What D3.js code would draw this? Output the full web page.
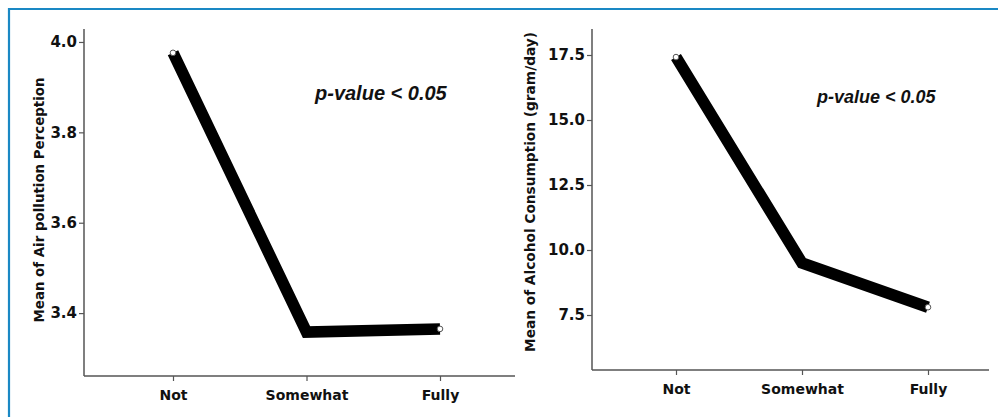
<!DOCTYPE html>
<html><head><meta charset="utf-8">
<script src="https://cdn.jsdelivr.net/npm/d3@7"></script>
<style>body{margin:0;background:#fff}svg{display:block}</style>
</head><body>
<svg id="c" width="998" height="417"></svg>
<script>
const categories = ["Not", "Somewhat", "Fully"];
const airValues = [3.976, 3.358, 3.365];
const alcoholValues = [17.42, 9.5, 7.8];
const airTicks = [3.4, 3.6, 3.8, 4.0];
const alcoholTicks = [7.5, 10.0, 12.5, 15.0, 17.5];
const airTitle = "Mean of Air pollution Perception";
const alcoholTitle = "Mean of Alcohol Consumption (gram/day)";
const annotation = "p-value < 0.05";

const svg = d3.select("#c");
const font = "'DejaVu Sans', sans-serif";
const annFont = "'Liberation Sans', Arial, sans-serif";

// blue frame
svg.append("path").attr("d", "M9,417 V9 H998").attr("fill", "none")
  .attr("stroke", "#1a88c4").attr("stroke-width", 2.2);

function panel(o) {
  const g = svg.append("g");
  const x = d3.scalePoint().domain(categories).range([o.x0, o.x2]);
  const y = d3.scaleLinear().domain(o.domain).range([o.yBottom, o.yTop]);
  // y axis
  const ya = g.append("g").attr("transform", `translate(${o.axisX},0)`)
    .call(d3.axisLeft(y).tickValues(o.ticks).tickFormat(d3.format(".1f")).tickSize(5).tickPadding(2));
  ya.attr("font-size", 15).attr("font-family", font);
  ya.select(".domain").attr("stroke", "#555").attr("stroke-width", 1.5).attr("d", `M0,${o.yTop}V${o.yBottom}`);
  ya.selectAll(".tick line").attr("stroke", "#555").attr("stroke-width", 1.2);
  ya.selectAll(".tick text").attr("font-family", font).attr("font-weight", "bold")
    .attr("font-size", 15).attr("fill", "#111");
  // x axis
  const xa = g.append("g").attr("transform", `translate(0,${o.yBottom})`)
    .call(d3.axisBottom(x).tickSize(5).tickPadding(9));
  xa.attr("font-size", 14).attr("font-family", font);
  xa.select(".domain").attr("stroke", "#555").attr("stroke-width", 1.5).attr("d", `M${o.axisX},0H${o.axisEnd}`);
  xa.selectAll(".tick line").attr("stroke", "#555").attr("stroke-width", 1.2);
  xa.selectAll(".tick text").attr("font-family", font).attr("font-weight", "bold")
    .attr("font-size", 14).attr("fill", "#111");
  // axis title
  g.append("text").attr("transform", `translate(${o.titleX},${o.titleY}) rotate(-90)`)
    .attr("text-anchor", "middle").attr("font-family", font).attr("font-weight", "bold")
    .attr("font-size", 14).attr("fill", "#111")
    .attr("textLength", o.titleLen).attr("lengthAdjust", "spacingAndGlyphs").text(o.title);
  // line
  const line = d3.line().x((d, i) => x(categories[i])).y(d => y(d));
  g.append("path").datum(o.values).attr("d", line).attr("fill", "none")
    .attr("stroke", "#000").attr("stroke-width", 11.5).attr("stroke-linejoin", "miter");
  g.selectAll("circle.m").data(o.values).enter().append("circle")
    .attr("cx", (d, i) => x(categories[i])).attr("cy", d => y(d)).attr("r", 2.8)
    .attr("fill", "#fff").attr("stroke", "#555").attr("stroke-width", 1)
    .attr("opacity", (d, i) => i === 1 ? 0 : 1);
  // annotation
  g.append("text").attr("x", o.annX).attr("y", o.annY).attr("font-family", annFont)
    .attr("font-weight", "bold").attr("font-style", "italic").attr("font-size", o.annSize)
    .attr("fill", "#111").text(annotation);
}

panel({
  x0: 173, x2: 440, axisX: 84, axisEnd: 515, yTop: 29, yBottom: 376,
  domain: [3.2608, 4.0287], ticks: airTicks, values: airValues,
  title: airTitle, titleX: 44, titleY: 200, titleLen: 245,
  annX: 315, annY: 100, annSize: 20
});
panel({
  x0: 676, x2: 928, axisX: 592, axisEnd: 989, yTop: 29, yBottom: 370,
  domain: [5.385, 18.5], ticks: alcoholTicks, values: alcoholValues,
  title: alcoholTitle, titleX: 535, titleY: 192, titleLen: 320,
  annX: 817, annY: 103, annSize: 18
});
</script>
</body></html>
